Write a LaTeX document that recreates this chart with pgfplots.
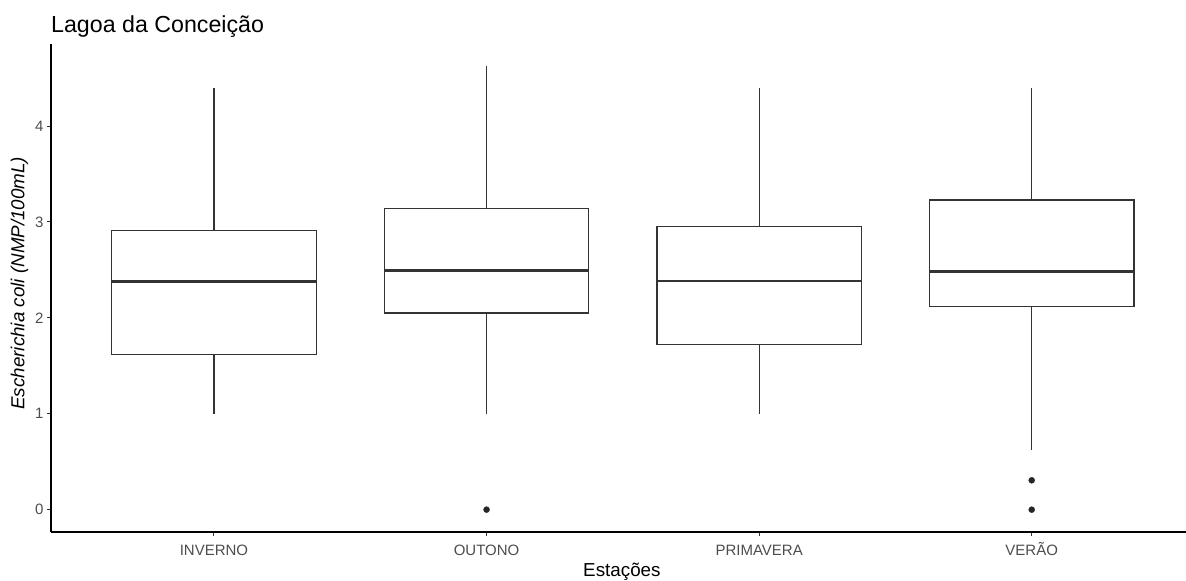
\documentclass[border=0pt]{standalone}
\usepackage{fontspec}
\setmainfont{Liberation Sans}
\usepackage{pgfplots}
\pgfplotsset{compat=1.18}
\usepgfplotslibrary{statistics}
\definecolor{boxline}{HTML}{333333}
\definecolor{ticktext}{HTML}{4D4D4D}
\definecolor{pointfill}{HTML}{262626}

\begin{document}
\begin{tikzpicture}
\path[use as bounding box] (-51bp,-49bp) rectangle (1135bp,532bp);
\begin{axis}[
  at={(0,0)}, anchor=south west,
  scale only axis, width=1135bp, height=488bp,
  xmin=-0.598, xmax=3.566, ymin=-0.233, ymax=4.856,
  axis x line*=bottom, axis y line*=left,
  axis line style={black, line width=1.1bp},
  xtick={0,1,2,3},
  xticklabels={INVERNO,OUTONO,PRIMAVERA,VERÃO},
  ytick={0,1,2,3,4},
  tick align=outside, major tick length=4bp,
  tick style={boxline, line width=1bp},
  /pgf/number format/assume math mode=true,
  ticklabel style={font=\fontsize{15bp}{18bp}\selectfont, text=ticktext},
  xticklabel style={anchor=base, yshift=-19bp},
  title={Lagoa da Conceição},
  title style={at={(axis description cs:0,1)}, anchor=base west,
    yshift=6bp, inner sep=0pt, font=\fontsize{23.2bp}{28bp}\selectfont},
  xlabel={Estações},
  ylabel={\itshape Escherichia coli (NMP/100mL)},
  label style={font=\fontsize{18.8bp}{22bp}\selectfont, text=black},
  xlabel style={at={(axis description cs:0.503,-0.0922)}, anchor=base},
  ylabel style={at={(axis description cs:-0.0278,0.51)}, anchor=center},
  boxplot/draw direction=y,
  boxplot/box extend=0.75,
  boxplot/whisker extend=0,
  boxplot/every median/.style={line width=2.8bp},
  every axis plot/.append style={draw=boxline, line width=1.2bp,
    mark=*, mark size=3bp, mark options={fill=pointfill, draw=pointfill, line width=0.4bp}},
]
% INVERNO
\addplot[boxplot prepared={draw position=0,
  lower whisker=1.0, lower quartile=1.616, median=2.378,
  upper quartile=2.91, upper whisker=4.40}] coordinates {};
% OUTONO
\addplot[boxplot prepared={draw position=1,
  lower whisker=1.0, lower quartile=2.05, median=2.49,
  upper quartile=3.14, upper whisker=4.63}] coordinates {(1,0)};
% PRIMAVERA
\addplot[boxplot prepared={draw position=2,
  lower whisker=1.0, lower quartile=1.724, median=2.385,
  upper quartile=2.95, upper whisker=4.40}] coordinates {};
% VERÃO
\addplot[boxplot prepared={draw position=3,
  lower whisker=0.62, lower quartile=2.117, median=2.485,
  upper quartile=3.23, upper whisker=4.40}] coordinates {(3,0.306) (3,0)};
\end{axis}
\end{tikzpicture}
\end{document}
